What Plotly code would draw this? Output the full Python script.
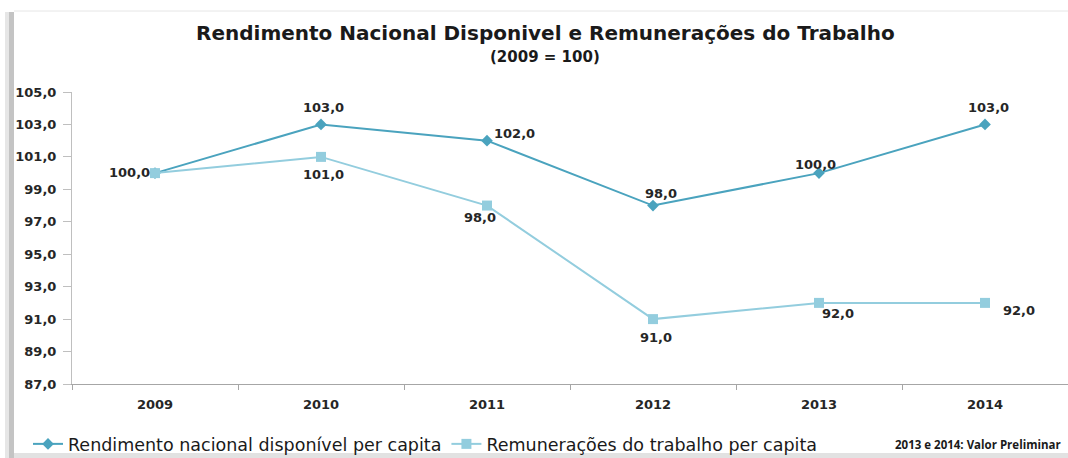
import plotly.graph_objects as go

years = ["2009", "2010", "2011", "2012", "2013", "2014"]
rendimento = [100.0, 103.0, 102.0, 98.0, 100.0, 103.0]
remuneracoes = [100.0, 101.0, 98.0, 91.0, 92.0, 92.0]
y_ticks = [87, 89, 91, 93, 95, 97, 99, 101, 103, 105]

name_a = "Rendimento nacional disponível per capita"
name_b = "Remunerações do trabalho per capita"
title = "Rendimento Nacional Disponivel e Remunerações do Trabalho"
subtitle = "(2009 = 100)"
note = "2013 e 2014: Valor Preliminar"

def fmt(v):
    return f"{v:.1f}".replace(".", ",")

# label offsets in pixels (dx, dy up-positive); None = no label
off_a = [(-26, 1), (2, 17), (27, 7), (8, 12), (-4, 9), (3, 17)]
off_b = [None, (2, -18), (-7, -12), (3, -18), (19, -11), (34, -8)]

C_A = "#4AA3BE"
C_B = "#93CDDE"
label_font = dict(family="DejaVu Sans", size=13, color="#262626", weight="bold")

fig = go.Figure()
fig.add_trace(go.Scatter(
    x=years, y=rendimento, name=name_a, mode="lines+markers",
    line=dict(color=C_A, width=2), marker=dict(symbol="diamond", size=9, color=C_A),
))
fig.add_trace(go.Scatter(
    x=years, y=remuneracoes, name=name_b, mode="lines+markers",
    line=dict(color=C_B, width=2), marker=dict(symbol="square", size=10, color=C_B),
))

# pixel -> paper helpers (plot area: x 72..1068, y 92..384)
def px(x):
    return (x - 72) / 996
def py(y):
    return (384 - y) / 292

shapes = [
    dict(type="rect", xref="paper", yref="paper", x0=px(5), x1=px(9), y0=py(458), y1=py(12),
         fillcolor="#E6E6E6", line=dict(width=0), layer="below"),
    dict(type="rect", xref="paper", yref="paper", x0=px(9), x1=px(14), y0=py(458), y1=py(12),
         fillcolor="#C4C4C4", line=dict(width=0), layer="below"),
    dict(type="line", xref="paper", yref="paper", x0=px(14), x1=px(1068), y0=py(11), y1=py(11),
         line=dict(color="#E6E6E6", width=1)),
    dict(type="rect", xref="paper", yref="paper", x0=px(14), x1=px(1068), y0=py(458), y1=py(453),
         fillcolor="#E2E2E2", line=dict(width=0), layer="below"),
]

annotations = [
    dict(text="<b>" + title + "</b>", x=px(545), y=py(33), xref="paper", yref="paper",
         xanchor="center", yanchor="middle",
         showarrow=False, font=dict(family="DejaVu Sans", size=20, color="#1a1a1a")),
    dict(text="<b>" + subtitle + "</b>", x=px(545), y=py(57), xref="paper", yref="paper",
         xanchor="center", yanchor="middle",
         showarrow=False, font=dict(family="DejaVu Sans", size=15, color="#1a1a1a")),
    dict(text="<b>" + note + "</b>", x=px(1063), y=py(444), xref="paper", yref="paper",
         xanchor="right", yanchor="middle", showarrow=False,
         font=dict(family="Open Sans", size=11.5, color="#1a1a1a")),
]

for series, offs in ((rendimento, off_a), (remuneracoes, off_b)):
    for i, (v, o) in enumerate(zip(series, offs)):
        if o is None:
            continue
        annotations.append(dict(
            x=i, y=v, xref="x", yref="y", text="<b>" + fmt(v) + "</b>", showarrow=False,
            xanchor="center", yanchor="middle", xshift=o[0], yshift=o[1],
            font=label_font,
        ))

fig.update_layout(
    width=1068, height=458,
    margin=dict(l=72, r=0, t=92, b=74, autoexpand=False),
    paper_bgcolor="white", plot_bgcolor="white",
    showlegend=True,
    legend=dict(orientation="h", x=px(28), y=py(444), xanchor="left", yanchor="middle",
                traceorder="normal", font=dict(family="DejaVu Sans", size=17.5, color="#1a1a1a"),
                itemwidth=30, bgcolor="rgba(0,0,0,0)"),
    shapes=shapes, annotations=annotations,
    xaxis=dict(type="category", range=[-0.5, 5.5], showgrid=False, showline=True,
               linecolor="#A6A6A6", linewidth=1, ticks="outside", tickson="boundaries",
               ticklen=5, tickcolor="#A6A6A6", ticklabelstandoff=8,
               tickfont=dict(family="DejaVu Sans", size=13, color="#262626", weight="bold"),
               fixedrange=True),
    yaxis=dict(range=[87, 105], tickvals=y_ticks, ticktext=[fmt(v) for v in y_ticks],
               showgrid=False, zeroline=False, showline=True, linecolor="#BFBFBF", linewidth=1,
               ticks="outside", ticklen=8, tickcolor="#BFBFBF", ticklabelstandoff=4,
               tickfont=dict(family="DejaVu Sans", size=13, color="#262626", weight="bold"),
               fixedrange=True),
)

fig.write_html(
    "out.html",
    config={"displayModeBar": False},
    post_script="document.body.style.margin='0';document.body.style.padding='0';",
)
